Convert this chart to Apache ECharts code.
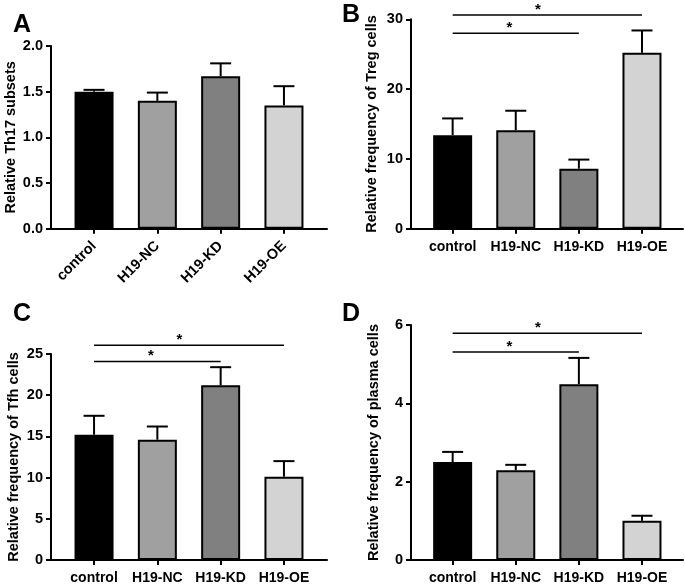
<!DOCTYPE html>
<html><head><meta charset="utf-8">
<script src="https://cdn.jsdelivr.net/npm/echarts@6/dist/echarts.min.js"></script>
<style>html,body{margin:0;padding:0;background:#fff}#c{width:685px;height:585px}</style>
</head><body><div id="c"></div>
<script>
const categories = ['control', 'H19-NC', 'H19-KD', 'H19-OE'];
const barColors = ['#000000', '#a0a0a0', '#808080', '#d3d3d3'];

const th17Mean = [1.50, 1.40, 1.67, 1.35];
const th17Err  = [0.02, 0.09, 0.14, 0.21];
const tregMean = [13.4, 14.1, 8.6, 25.2];
const tregErr  = [2.4, 2.8, 1.3, 3.2];
const tfhMean  = [15.2, 14.6, 21.2, 10.1];
const tfhErr   = [2.3, 1.6, 2.2, 1.9];
const plasmaMean = [2.50, 2.29, 4.49, 1.00];
const plasmaErr  = [0.26, 0.14, 0.67, 0.13];

// significance brackets: [fromIndex, toIndex, level]
const tregSig   = [[0, 3, 30.6], [0, 2, 28.0]];
const tfhSig    = [[0, 3, 26.05], [0, 2, 24.08]];
const plasmaSig = [[0, 3, 5.79], [0, 2, 5.31]];

const yTitles = ['Relative Th17 subsets', 'Relative frequency of Treg cells', 'Relative frequency of Tfh cells', 'Relative frequency of plasma cells'];
const panelLetters = ['A', 'B', 'C', 'D'];

const FONT = 'Liberation Sans, Arial, sans-serif';
const panels = [
  {mean: th17Mean, err: th17Err, sig: [], yMax: 2, yInt: 0.5, dec: 1,
   grid: {left: 51, top: 46, width: 276, height: 182.7}, xMin: -0.68, xMax: 3.68, rot: 45, nameGap: 31, title: {left: 13, top: 13}},
  {mean: tregMean, err: tregErr, sig: tregSig, yMax: 30, yInt: 10, dec: 0,
   grid: {left: 411, top: 19.3, width: 272, height: 209.4}, xMin: -0.66, xMax: 3.65, rot: 0, nameGap: 32, title: {left: 342, top: 3}},
  {mean: tfhMean, err: tfhErr, sig: tfhSig, yMax: 25, yInt: 5, dec: 0,
   grid: {left: 51, top: 354, width: 276, height: 208.3}, xMin: -0.68, xMax: 3.68, rot: 0, nameGap: 30, title: {left: 13, top: 302}},
  {mean: plasmaMean, err: plasmaErr, sig: plasmaSig, yMax: 6, yInt: 2, dec: 0,
   grid: {left: 411, top: 325, width: 272, height: 237.3}, xMin: -0.66, xMax: 3.65, rot: 0, nameGap: 30, title: {left: 342, top: 302}}
];

const grids = [], xAxes = [], yAxes = [], series = [], titles = [];
panels.forEach((p, k) => {
  grids.push(Object.assign({containLabel: false}, p.grid));
  titles.push({text: panelLetters[k], left: p.title.left, top: p.title.top, padding: 0,
    textStyle: {fontFamily: FONT, fontWeight: 'bold', fontSize: 25, color: '#000'}});
  xAxes.push({
    type: 'value', gridIndex: k, min: p.xMin, max: p.xMax,
    axisLine: {show: true, onZero: false, lineStyle: {color: '#000', width: 2}},
    axisTick: {show: true, length: 5, lineStyle: {color: '#000', width: 2}, customValues: [0, 1, 2, 3]},
    axisLabel: {customValues: [0, 1, 2, 3], formatter: v => categories[Math.round(v)],
      rotate: p.rot, margin: p.rot ? 15 : 11, color: '#000', fontFamily: FONT, fontWeight: 'bold',
      fontSize: p.rot ? 14.5 : 14},
    splitLine: {show: false}
  });
  yAxes.push({
    type: 'value', gridIndex: k, min: 0, max: p.yMax, interval: p.yInt,
    name: yTitles[k], nameLocation: 'middle', nameGap: p.nameGap,
    nameTextStyle: {fontFamily: FONT, fontWeight: 'bold', fontSize: 14.5, color: '#000'},
    axisLine: {show: true, onZero: false, lineStyle: {color: '#000', width: 2}},
    axisTick: {show: true, length: 5, lineStyle: {color: '#000', width: 2}},
    axisLabel: {margin: 8, color: '#000', fontFamily: FONT, fontWeight: 'bold', fontSize: 14.5,
      formatter: v => v.toFixed(p.dec)},
    splitLine: {show: false}
  });
  series.push({
    type: 'bar', xAxisIndex: k, yAxisIndex: k, barWidth: 39,
    data: p.mean.map((v, i) => ({value: [i, v], itemStyle: {color: barColors[i], borderColor: '#000', borderWidth: 2}})),
    z: 2
  });
  series.push({
    type: 'custom', xAxisIndex: k, yAxisIndex: k, z: 1,
    data: p.mean.map((v, i) => [i, v, v + p.err[i]]),
    renderItem: (params, api) => {
      const base = api.coord([api.value(0), api.value(1)]);
      const top = api.coord([api.value(0), api.value(2)]);
      const hw = 10.5;
      const st = {stroke: '#000', lineWidth: 2};
      return {type: 'group', children: [
        {type: 'line', shape: {x1: base[0], y1: base[1], x2: top[0], y2: top[1]}, style: st},
        {type: 'line', shape: {x1: top[0] - hw, y1: top[1], x2: top[0] + hw, y2: top[1]}, style: st}
      ]};
    }
  });
  if (p.sig.length) {
    series.push({
      type: 'custom', xAxisIndex: k, yAxisIndex: k, clip: false, z: 3,
      data: p.sig,
      renderItem: (params, api) => {
        const a = api.coord([api.value(0), api.value(2)]);
        const b = api.coord([api.value(1), api.value(2)]);
        const sx = a[0] + (b[0] - a[0]) * 0.45;
        return {type: 'group', children: [
          {type: 'line', shape: {x1: a[0], y1: a[1], x2: b[0], y2: b[1]}, style: {stroke: '#000', lineWidth: 1.5}},
          {type: 'text', x: sx, y: a[1] + 2, style: {text: '*', fontFamily: FONT, fontWeight: 'bold', fontSize: 15,
            fill: '#000', align: 'center', verticalAlign: 'bottom'}}
        ]};
      }
    });
  }
});

const chart = echarts.init(document.getElementById('c'), null, {renderer: 'canvas'});
chart.setOption({animation: false, backgroundColor: '#fff', title: titles, grid: grids, xAxis: xAxes, yAxis: yAxes, series: series});
</script>
</body></html>
